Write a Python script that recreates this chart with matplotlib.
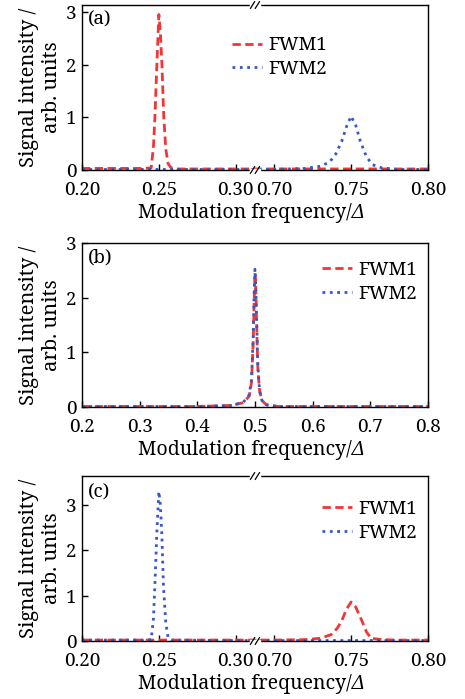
import matplotlib
matplotlib.use("Agg")
import matplotlib.pyplot as plt
import numpy as np

plt.rcParams['font.family'] = ['Noto Serif', 'DejaVu Serif']
FS = 13.5

# panel (a): broken x axis 0.20-0.30 // 0.70-0.80
a_x1 = [0.200, 0.220, 0.240, 0.245, 0.2465, 0.2475, 0.2487, 0.2500, 0.2510, 0.2520,
        0.2532, 0.2545, 0.2560, 0.2580, 0.2620, 0.300, 0.700, 0.750, 0.800]
a_y1 = [0.03, 0.03, 0.03, 0.04, 0.45, 1.05, 2.0, 2.95, 2.6, 2.0,
        1.0, 0.4, 0.12, 0.04, 0.02, 0.02, 0.02, 0.02, 0.02]
a_x2 = [0.200, 0.300, 0.700, 0.720, 0.730, 0.736, 0.740, 0.744, 0.747, 0.750,
        0.753, 0.756, 0.760, 0.764, 0.770, 0.780, 0.800]
a_y2 = [0.01, 0.01, 0.01, 0.03, 0.07, 0.15, 0.30, 0.55, 0.82, 1.02,
        0.85, 0.55, 0.25, 0.10, 0.04, 0.01, 0.01]

# panel (b): continuous axis
b_x = [0.20, 0.40, 0.46, 0.48, 0.49, 0.494, 0.497, 0.499, 0.500, 0.501,
       0.503, 0.505, 0.508, 0.512, 0.520, 0.540, 0.600, 0.800]
b_y1 = [0.01, 0.01, 0.03, 0.08, 0.20, 0.45, 1.2, 2.1, 2.45, 2.3,
        1.5, 0.7, 0.3, 0.12, 0.04, 0.01, 0.01, 0.01]
b_y2 = [0.01, 0.01, 0.03, 0.09, 0.22, 0.50, 1.3, 2.3, 2.52, 2.35,
        1.55, 0.75, 0.3, 0.12, 0.04, 0.01, 0.01, 0.01]

# panel (c): broken x axis again
c_x1 = [0.200, 0.300, 0.700, 0.720, 0.730, 0.737, 0.741, 0.744, 0.747, 0.750,
        0.753, 0.757, 0.760, 0.763, 0.770, 0.780, 0.800]
c_y1 = [0.02, 0.02, 0.02, 0.03, 0.06, 0.14, 0.28, 0.45, 0.70, 0.86,
        0.75, 0.45, 0.20, 0.06, 0.03, 0.02, 0.02]
c_x2 = [0.200, 0.220, 0.240, 0.245, 0.2465, 0.2475, 0.2487, 0.2500, 0.2510, 0.2520,
        0.2530, 0.2545, 0.2560, 0.2580, 0.300, 0.700, 0.800]
c_y2 = [0.02, 0.02, 0.02, 0.03, 0.5, 1.3, 2.4, 3.3, 3.0, 2.3,
        1.2, 0.4, 0.08, 0.02, 0.01, 0.01, 0.01]

brk_ticks = [0.20, 0.25, 0.30, 0.70, 0.75, 0.80]
brk_labels = ['0.20', '0.25', '0.30', '0.70', '0.75', '0.80']
b_ticks = [0.2, 0.3, 0.4, 0.5, 0.6, 0.7, 0.8]

RED = '#f23636'
BLUE = '#3758c4'
SHIFT = 0.375  # 0.70 drawn right after 0.30


def fold(x):
    x = np.asarray(x, dtype=float)
    return np.where(x > 0.5, x - SHIFT, x)


fig = plt.figure(figsize=(4.65, 6.99), dpi=100)
L, W = 0.1763, 0.744
ax_a = fig.add_axes([L, 0.7568, W, 0.2360])
ax_b = fig.add_axes([L, 0.4177, W, 0.2347])
ax_c = fig.add_axes([L, 0.0830, W, 0.2360])


def style(ax):
    ax.tick_params(direction='in', length=4, width=1, labelsize=FS,
                   top=False, right=False)
    ax.tick_params(axis='y', pad=4)
    ax.tick_params(axis='x', pad=8)
    for s in ax.spines.values():
        s.set_linewidth(1.0)
    ax.set_ylabel('Signal intensity /\narb. units', fontsize=14.5, labelpad=3,
                  linespacing=1.2)
    # x label with italic Delta appended
    off = 43 / ax.get_position().height / (fig.get_figheight() * fig.dpi)
    t1 = ax.text(0.47, -off, 'Modulation frequency/', transform=ax.transAxes,
                 fontsize=14, ha='center', va='center')
    ax.annotate('\u0394', xy=(1, 0.5), xycoords=t1, ha='left', va='center',
                fontsize=14, style='italic')


def breakmarks(ax):
    xb = (0.30 + 0.0125 - 0.20) / (0.80 - SHIFT - 0.20)
    for yb in (0.0, 1.0):
        ax.plot([xb - 0.012, xb + 0.012], [yb, yb], color='white', lw=2.5,
                transform=ax.transAxes, clip_on=False, zorder=5)
        for dx in (-0.007, 0.007):
            ax.plot([xb + dx - 0.006, xb + dx + 0.006], [yb - 0.02, yb + 0.02],
                    color='black', lw=0.9, transform=ax.transAxes,
                    clip_on=False, zorder=6)


leg_kw = dict(loc='upper left', frameon=False, fontsize=FS, handlelength=1.6,
              handletextpad=0.35, labelspacing=0.3, borderaxespad=0, borderpad=0)

# (a)
ax_a.plot(fold(a_x1), a_y1, '--', color=RED, lw=2, dashes=(3, 1.6), label='FWM1')
ax_a.plot(fold(a_x2), a_y2, ':', color=BLUE, lw=2, label='FWM2')
ax_a.set_xlim(0.20, 0.80 - SHIFT)
ax_a.set_ylim(0, 3.13)
ax_a.set_xticks(fold(brk_ticks))
ax_a.set_xticklabels(brk_labels)
ax_a.set_yticks([0, 1, 2, 3])
style(ax_a)
breakmarks(ax_a)
ax_a.legend(bbox_to_anchor=(0.434, 0.81), **leg_kw)
ax_a.text(0.018, 0.965, '(a)', transform=ax_a.transAxes, fontsize=FS, va='top')

# (b)
ax_b.plot(b_x, b_y1, '--', color=RED, lw=2, dashes=(3, 1.6), label='FWM1')
ax_b.plot(b_x, b_y2, ':', color=BLUE, lw=2, label='FWM2')
ax_b.set_xlim(0.2, 0.8)
ax_b.set_ylim(0, 3)
ax_b.set_xticks(b_ticks)
ax_b.set_yticks([0, 1, 2, 3])
style(ax_b)
ax_b.legend(bbox_to_anchor=(0.694, 0.89), **leg_kw)
ax_b.text(0.018, 0.965, '(b)', transform=ax_b.transAxes, fontsize=FS, va='top')

# (c)
ax_c.plot(fold(c_x1), c_y1, '--', color=RED, lw=2, dashes=(3, 1.6), label='FWM1')
ax_c.plot(fold(c_x2), c_y2, ':', color=BLUE, lw=2, label='FWM2')
ax_c.set_xlim(0.20, 0.80 - SHIFT)
ax_c.set_ylim(0, 3.64)
ax_c.set_xticks(fold(brk_ticks))
ax_c.set_xticklabels(brk_labels)
ax_c.set_yticks([0, 1, 2, 3])
style(ax_c)
breakmarks(ax_c)
ax_c.legend(bbox_to_anchor=(0.694, 0.855), **leg_kw)
ax_c.text(0.018, 0.955, '(c)', transform=ax_c.transAxes, fontsize=FS, va='top')

fig.savefig('out.png', dpi=100)
